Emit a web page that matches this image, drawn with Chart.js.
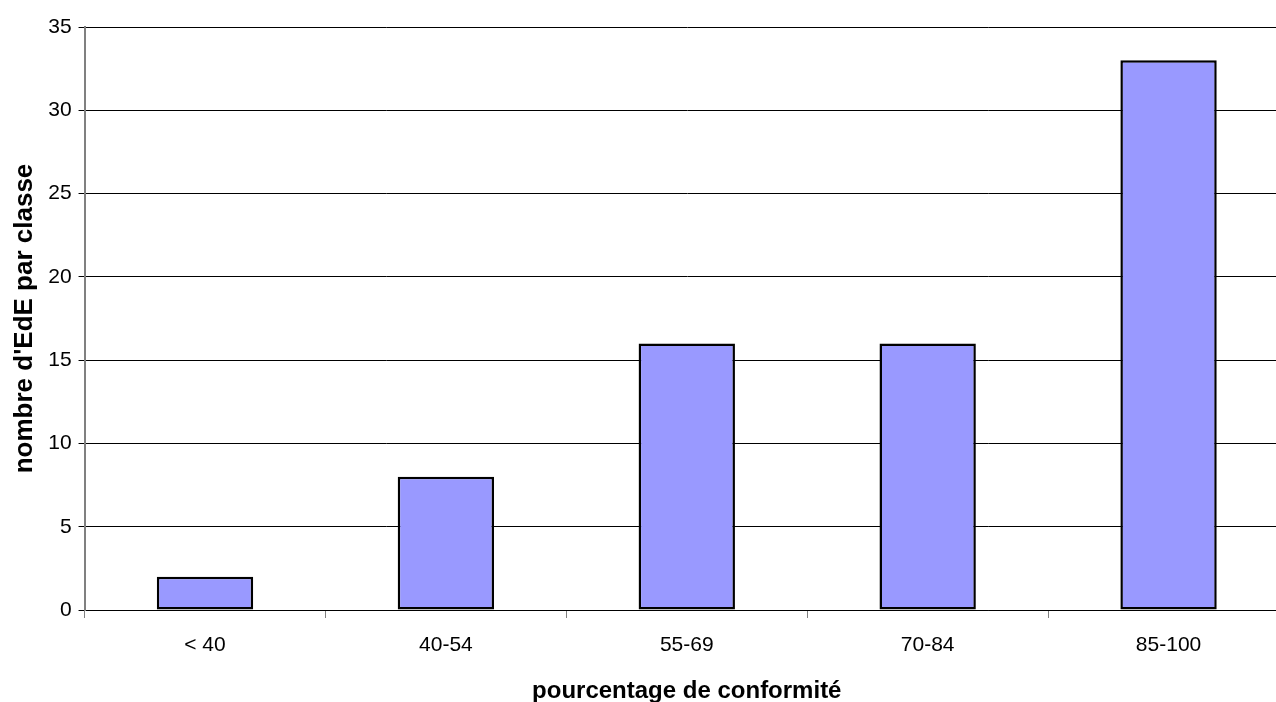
<!DOCTYPE html>
<html>
<head>
<meta charset="utf-8">
<script src="https://cdn.jsdelivr.net/npm/chart.js@4/dist/chart.umd.min.js"></script>
<style>
  html, body { margin: 0; padding: 0; background: #fff; overflow: hidden; }
  #wrap { width: 1290px; height: 706px; }
</style>
</head>
<body>
<div id="wrap"><canvas id="chart"></canvas></div>
<script>
// classes de conformité et nombre d'EdE par classe
const classes = ["< 40", "40-54", "55-69", "70-84", "85-100"];
const nombreEdE = [2, 8, 16, 16, 33];
const yMax = 35;
const yStep = 5;

const font = "'Liberation Sans', Arial, sans-serif";

new Chart(document.getElementById("chart"), {
  type: "bar",
  data: {
    labels: classes,
    datasets: [{
      data: nombreEdE,
      backgroundColor: "#9999ff",
      borderColor: "#000000",
      borderWidth: 2.5,
      borderSkipped: false,
      categoryPercentage: 1,
      barPercentage: 0.4
    }]
  },
  options: {
    responsive: true,
    maintainAspectRatio: false,
    animation: false,
    layout: { padding: { top: 27, right: 1, left: 9, bottom: 0 } },
    plugins: {
      legend: { display: false },
      tooltip: { enabled: false }
    },
    scales: {
      x: {
        offset: true,
        grid: {
          offset: true,
          drawOnChartArea: false,
          color: "#808080",
          tickLength: 8
        },
        border: { color: "#000", width: 1 },
        ticks: {
          color: "#000",
          font: { family: font, size: 21 },
          padding: 15
        },
        title: {
          display: true,
          text: "pourcentage de conformité",
          color: "#000",
          font: { family: font, size: 24, weight: "bold" },
          padding: { top: 4, bottom: 0 }
        }
      },
      y: {
        min: 0,
        max: yMax,
        ticks: {
          stepSize: yStep,
          color: "#000",
          font: { family: font, size: 21 },
          padding: 7
        },
        grid: {
          color: "#000",
          tickLength: 6
        },
        border: { color: "#808080", width: 2 },
        title: {
          display: true,
          text: "nombre d'EdE par classe",
          color: "#000",
          font: { family: font, size: 26, weight: "bold" },
          padding: { top: 0, bottom: 1 }
        }
      }
    }
  }
});
</script>
</body>
</html>
